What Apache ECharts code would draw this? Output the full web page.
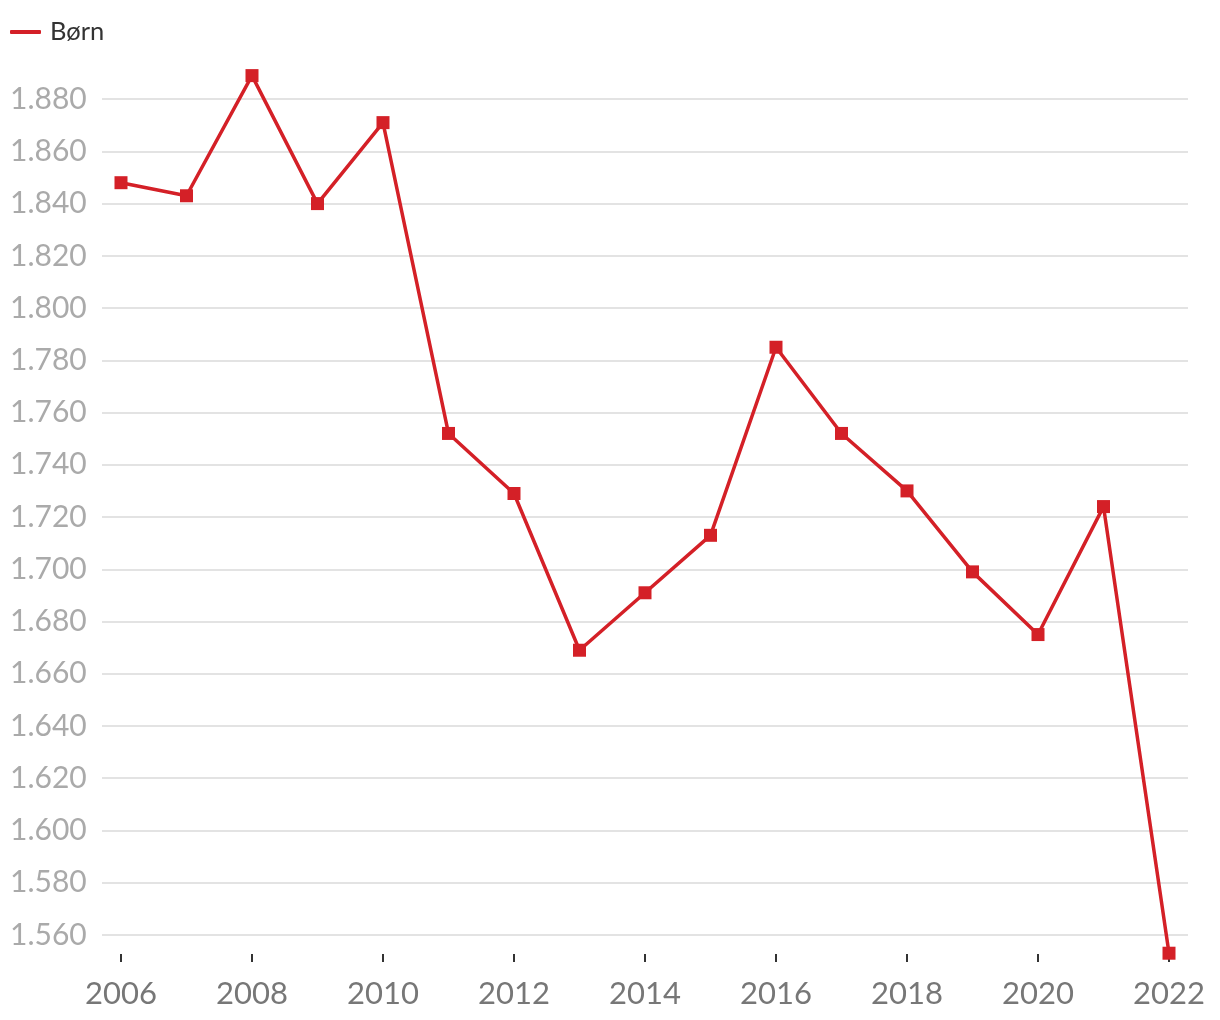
<!DOCTYPE html>
<html>
<head>
<meta charset="utf-8">
<script src="https://cdn.jsdelivr.net/npm/echarts@6/dist/echarts.min.js"></script>
<style>html,body{margin:0;padding:0;background:#fff}#c{width:1220px;height:1020px}</style>
</head>
<body>
<div id="c"></div>
<script>
const seriesName = 'Børn';
const years = [2006,2007,2008,2009,2010,2011,2012,2013,2014,2015,2016,2017,2018,2019,2020,2021,2022];
const values = [1848,1843,1889,1840,1871,1752,1729,1669,1691,1713,1785,1752,1730,1699,1675,1724,1553];
const xTicks = [2006,2008,2010,2012,2014,2016,2018,2020,2022];
const yTicks = [1560,1580,1600,1620,1640,1660,1680,1700,1720,1740,1760,1780,1800,1820,1840,1860,1880];

const fmt = v => { const s = String(Math.round(v)); return s.length > 3 ? s.slice(0, s.length-3) + '.' + s.slice(-3) : s; };

const chart = echarts.init(document.getElementById('c'));
chart.setOption({
  animation: false,
  textStyle: { fontFamily: 'Lato' },
  legend: {
    left: 10, top: 19, padding: 0, icon: 'roundRect', itemWidth: 31, itemHeight: 4, itemGap: 10,
    textStyle: { fontFamily: 'Lato', fontSize: 25.5, color: '#333', padding: [0,0,0,4] },
    data: [seriesName]
  },
  grid: { left: 102, right: 32, top: 73, bottom: 66, containLabel: false },
  xAxis: {
    type: 'value', min: 2005.71, max: 2022.29,
    axisLine: { show: false },
    splitLine: { show: false },
    axisTick: { show: true, customValues: xTicks, length: 8, lineStyle: { color: '#333', width: 2 } },
    axisLabel: { customValues: xTicks, color: '#777', fontSize: 31, fontFamily: 'Lato', margin: 24, formatter: v => String(v) }
  },
  yAxis: {
    type: 'value', min: 1552.7, max: 1890,
    axisLine: { show: false },
    axisTick: { show: false, customValues: yTicks },
    splitLine: { show: true, lineStyle: { color: '#e3e3e3', width: 2 } },
    axisLabel: { customValues: yTicks, align: 'left', margin: 92, color: '#aaa', fontSize: 30, fontFamily: 'Lato', formatter: fmt }
  },
  series: [{
    name: seriesName, type: 'line',
    data: years.map((y, i) => [y, values[i]]),
    itemStyle: { color: '#d42027' },
    lineStyle: { color: '#d42027', width: 3.5 },
    symbol: 'rect', symbolSize: 13, showSymbol: true
  }]
});
</script>
</body>
</html>
